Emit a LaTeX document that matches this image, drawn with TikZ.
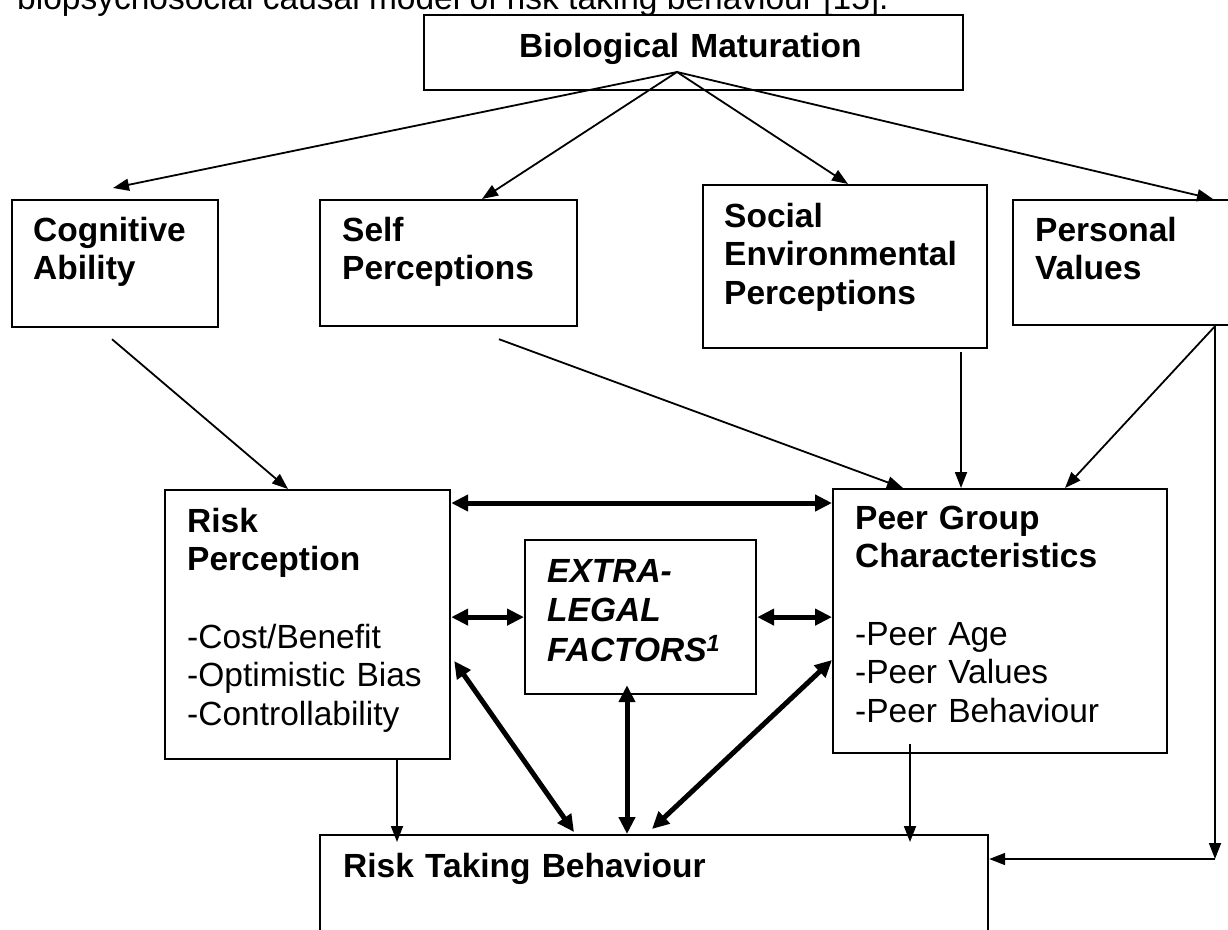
\documentclass[tikz,border=0pt]{standalone}
\usepackage{fontspec}
\setmainfont{Liberation Sans}
\usetikzlibrary{arrows.meta}

\tikzset{
    box/.style={draw, line width=2.2pt, inner sep=0pt, anchor=north west},
    lbl/.style={inner sep=0pt, anchor=base west, align=left, text width=420pt,
        font=\fontsize{33.5}{38.5}\selectfont\bfseries},
    plain/.style={inner sep=0pt, anchor=base west,
        font=\fontsize{33.5}{38.5}\selectfont},
    link/.style={-{Triangle[length=16pt,width=12pt]}, line width=1.8pt},
    twoway/.style={{Triangle[length=17pt,width=16pt]}-{Triangle[length=17pt,width=16pt]},
        line width=5pt},
}

\begin{document}
\begin{tikzpicture}[x=1pt,y=1pt]
    \useasboundingbox (0,0) rectangle (1228,-929);
    % caption line, cut off at the top
    \node[plain] (cap) at (17,-9) {biopsychosocial causal model of risk taking behaviour [15].};

    \node[box, minimum width=539pt, minimum height=75pt] (bio) at (423,-14) {};
    \node[lbl] (biotxt) at (519,-57) {Biological Maturation};
    \coordinate (apex) at (677,-72);

    \node[box, minimum width=206pt, minimum height=127pt] (cog) at (11,-199) {};
    \node[lbl] (cogtxt) at (33,-241) {Cognitive\\Ability};
    \node[box, minimum width=257pt, minimum height=126pt] (self) at (319,-199) {};
    \node[lbl] (selftxt) at (342,-241) {Self\\Perceptions};
    \node[box, minimum width=284pt, minimum height=163pt] (soc) at (702,-184) {};
    \node[lbl] (soctxt) at (724,-227) {Social\\Environmental\\Perceptions};
    \node[box, minimum width=240pt, minimum height=125pt] (pv) at (1012,-199) {};
    \node[lbl] (pvtxt) at (1035,-241) {Personal\\Values};

    \node[box, minimum width=285pt, minimum height=269pt] (rp) at (164,-489) {};
    \node[lbl] (rptxt) at (187,-532) {Risk\\Perception\\[39pt]\mdseries -Cost/Benefit\\-Optimistic Bias\\-Controllability};
    \node[box, minimum width=231pt, minimum height=154pt] (ext) at (524,-539) {};
    \node[lbl, font=\fontsize{33.5}{39.5}\selectfont\bfseries\itshape] (exttxt) at (547,-582) {EXTRA-\\LEGAL\\FACTORS\textsuperscript{1}};
    \node[box, minimum width=334pt, minimum height=264pt] (peer) at (832,-488) {};
    \node[lbl] (peertxt) at (855,-529) {Peer Group\\Characteristics\\[39pt]\mdseries -Peer Age\\-Peer Values\\-Peer Behaviour};

    \node[box, minimum width=668pt, minimum height=130pt] (rtb) at (319,-834) {};
    \node[lbl] (rtbtxt) at (343,-877) {Risk Taking Behaviour};
    \coordinate (turn) at (1215,-859);

    % from biological maturation
    \draw[link] (apex) -- ([xshift=102pt,yshift=11pt]cog.north west);
    \draw[link] (apex) -- ([xshift=163pt]self.north west);
    \draw[link] (apex) -- ([xshift=146pt]soc.north west);
    \draw[link] (apex) -- ([xshift=201pt]pv.north west);
    % into risk perception and peer group
    \draw[link] ([xshift=101pt,yshift=-11pt]cog.south west) -- ([xshift=124pt]rp.north west);
    \draw[link] ([xshift=180pt,yshift=-12pt]self.south west) -- ([xshift=71pt]peer.north west);
    \draw[link] ([xshift=259pt,yshift=-3pt]soc.south west) -- ([xshift=129pt]peer.north west);
    \draw[link] ([xshift=203pt]pv.south west) -- ([xshift=233pt]peer.north west);
    \draw[link] ([xshift=203pt]pv.south west) -- (turn);
    \draw[link] (turn) -- (turn -| rtb.east);
    % into risk taking behaviour
    \draw[link] ([xshift=233pt]rp.south west) -- ([xshift=78pt,yshift=-8pt]rtb.north west);
    \draw[link] ([xshift=78pt,yshift=10pt]peer.south west) -- ([xshift=591pt,yshift=-8pt]rtb.north west);
    % two-way links
    \draw[twoway] ([yshift=-14pt]rp.north east) -- ([yshift=-15pt]peer.north west);
    \draw[twoway] (rp.east |- ext.west) -- (ext.west);
    \draw[twoway] (ext.east) -- (ext.east -| peer.west);
    \draw[twoway] ([xshift=3pt,yshift=-172pt]rp.north east) -- ([xshift=255pt,yshift=2pt]rtb.north west);
    \draw[twoway] ([xshift=103pt,yshift=10pt]ext.south west) -- ([xshift=308pt]rtb.north west);
    \draw[twoway] ([yshift=-172pt]peer.north west) -- ([xshift=333pt,yshift=5pt]rtb.north west);
\end{tikzpicture}
\end{document}
